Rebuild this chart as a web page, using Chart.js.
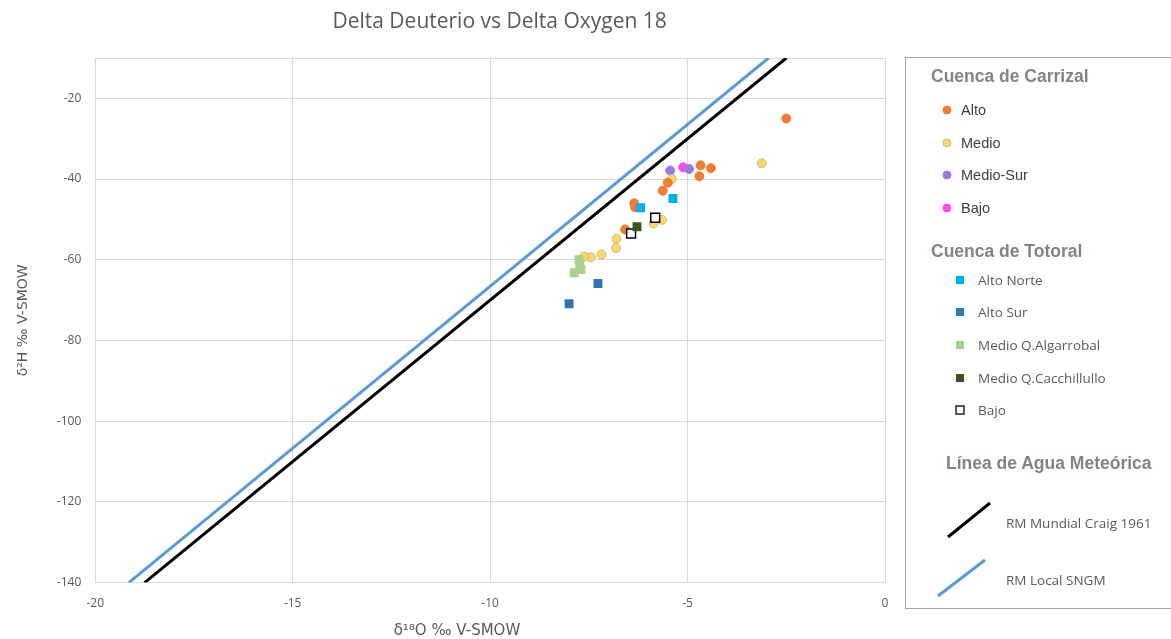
<!DOCTYPE html>
<html>
<head>
<meta charset="utf-8">
<script src="https://cdn.jsdelivr.net/npm/chart.js@4.4.1/dist/chart.umd.min.js"></script>
<style>
  body { margin: 0; background: #fff; }
  #wrap { position: relative; width: 1171px; height: 639px; }
  #legendBox { position: absolute; left: 905px; top: 57px; width: 266px; height: 552px; border: 1px solid #a6a6a6; border-right: none; box-sizing: border-box; }
  .lg { position: absolute; white-space: nowrap; line-height: 20px; height: 20px; }
  .head { font-family: "Liberation Sans", Arial, sans-serif; font-weight: bold; font-size: 17.5px; color: #8a8080; }
  .itemA { font-family: "Liberation Sans", Arial, sans-serif; font-size: 14.5px; color: #404040; }
  .itemB { font-family: "Open Sans", sans-serif; font-size: 13.5px; color: #595959; }
  #legendSvg { position: absolute; left: 0; top: 0; }
</style>
</head>
<body>
<div id="wrap">
  <canvas id="chart" width="1171" height="639"></canvas>
  <div id="legendBox"></div>
  <svg id="legendSvg" width="1171" height="639"></svg>
</div>
<script>
// δ18O (x) , δ2H (y)
const carrizalAlto = [[-2.5, -25], [-4.67, -36.6], [-4.41, -37.3], [-4.70, -39.3], [-5.50, -40.9], [-5.63, -42.9], [-6.35, -46.0], [-6.33, -47.0], [-6.58, -52.5]];
const carrizalMedio = [[-3.12, -36.1], [-5.40, -40.0], [-5.86, -51.0], [-5.65, -50.1], [-6.80, -54.8], [-6.81, -57.1], [-7.18, -58.7], [-7.45, -59.4], [-7.62, -59.2]];
const carrizalMedioSur = [[-5.44, -37.9], [-4.96, -37.5]];
const carrizalBajo = [[-5.11, -37.1]];
const totoralAltoNorte = [[-5.37, -44.8], [-6.19, -47.1]];
const totoralAltoSur = [[-7.27, -65.9], [-8.0, -70.9]];
const totoralAlgarrobal = [[-7.75, -60.0], [-7.73, -61.1], [-7.70, -62.4], [-7.87, -63.2]];
const totoralCacchillullo = [[-6.28, -51.8]];
const totoralBajo = [[-5.82, -49.6], [-6.43, -53.5]];
// meteoric water lines, end points
const lineCraig = [[-18.75, -140], [-2.5, -10]];
const lineLocal = [[-19.15, -140], [-2.95, -10]];

const xTicks = [-20, -15, -10, -5, 0];
const yTicks = [-140, -120, -100, -80, -60, -40, -20];
const chartTitle = 'Delta Deuterio vs Delta Oxygen 18';
const xTitle = 'δ¹⁸O ‰ V-SMOW';
const yTitle = 'δ²H ‰ V-SMOW';

const pts = a => a.map(p => ({x: p[0], y: p[1]}));

function circleSet(label, data, fill, border){
  return {label: label, data: pts(data), pointStyle: 'circle', pointRadius: 4.5, pointHoverRadius: 4.5,
    backgroundColor: fill, borderColor: border, borderWidth: 1, order: 5};
}
function squareSet(label, data, fill, border, bw){
  return {label: label, data: pts(data), pointStyle: 'rect', pointRadius: 6.3, pointHoverRadius: 6.3,
    backgroundColor: fill, borderColor: border, borderWidth: bw, order: 1};
}
function lineSet(label, data, color){
  return {label: label, data: pts(data), showLine: true, borderColor: color, borderWidth: 3,
    pointRadius: 0, fill: false, order: 10};
}

const series = [
  circleSet('Alto', carrizalAlto, '#ED7D31', '#ED7D31'),
  circleSet('Medio', carrizalMedio, '#FFD966', '#C9B98A'),
  circleSet('Medio-Sur', carrizalMedioSur, '#7F86DC', '#E45CE6'),
  circleSet('Bajo', carrizalBajo, '#F050F0', '#F050F0'),
  squareSet('Alto Norte', totoralAltoNorte, '#00B0F0', '#00B0F0', 0),
  squareSet('Alto Sur', totoralAltoSur, '#2E75B6', '#2E75B6', 0),
  squareSet('Medio Q.Algarrobal', totoralAlgarrobal, '#A9D18E', '#A9D18E', 0),
  squareSet('Medio Q.Cacchillullo', totoralCacchillullo, '#375623', '#375623', 0),
  squareSet('Bajo', totoralBajo, '#FFFFFF', '#000000', 1.5),
  lineSet('RM Mundial Craig 1961', lineCraig, '#000000'),
  lineSet('RM Local SNGM', lineLocal, '#5B9BD5')
];

// chart title and x axis title sit off the plot centre, as in the original
const titlesPlugin = {
  id: 'titlesPlugin',
  afterDraw(chart) {
    const ctx = chart.ctx;
    const area = chart.chartArea;
    const w = area.right - area.left;
    ctx.save();
    ctx.fillStyle = '#595959';
    ctx.textAlign = 'center';
    ctx.textBaseline = 'middle';
    ctx.font = '21px "Open Sans"';
    ctx.fillText(chartTitle, area.left + w * 0.512, 22);
    ctx.font = '15px "DejaVu Sans"';
    ctx.fillText(xTitle, area.left + w * 0.458, chart.height - 8);
    ctx.restore();
  }
};

new Chart(document.getElementById('chart'), {
  type: 'scatter',
  data: {datasets: series},
  options: {
    responsive: false,
    animation: false,
    layout: {padding: {left: 15, right: 286, top: 58, bottom: 14}},
    plugins: {
      legend: {display: false},
      tooltip: {enabled: false},
      title: {display: false}
    },
    scales: {
      x: {
        min: -20, max: 0,
        afterBuildTicks: s => { s.ticks = xTicks.map(v => ({value: v})); },
        ticks: {color: '#595959', font: {family: 'Open Sans', size: 12}, padding: 14},
        grid: {color: '#d9d9d9', drawTicks: false},
        border: {display: false},
        title: {display: false}
      },
      y: {
        min: -140, max: -10,
        afterBuildTicks: s => { s.ticks = yTicks.map(v => ({value: v})).concat([{value: -10}]); },
        ticks: {color: '#595959', font: {family: 'Open Sans', size: 12}, padding: 14,
          callback: v => v === -10 ? '' : v},
        grid: {color: '#d9d9d9', drawTicks: false},
        border: {display: false},
        title: {display: true, text: yTitle, color: '#595959', font: {family: 'DejaVu Sans', size: 14}, padding: {top: 0, bottom: 11}}
      }
    }
  },
  plugins: [titlesPlugin]
});

// legend (right panel)
const svg = document.getElementById('legendSvg');
const wrap = document.getElementById('wrap');
function addText(cls, x, y, txt){
  const d = document.createElement('div');
  d.className = 'lg ' + cls;
  d.style.left = x + 'px';
  d.style.top = (y - 10) + 'px';
  d.textContent = txt;
  wrap.appendChild(d);
}
function addSvg(tag, attrs){
  const el = document.createElementNS('http://www.w3.org/2000/svg', tag);
  for (const k in attrs) el.setAttribute(k, attrs[k]);
  svg.appendChild(el);
}

addText('head', 931, 76, 'Cuenca de Carrizal');
const carrizalRows = [110, 143, 175, 208];
series.slice(0, 4).forEach((ds, i) => {
  addSvg('circle', {cx: 947, cy: carrizalRows[i], r: 4, fill: ds.backgroundColor, stroke: ds.borderColor, 'stroke-width': 1});
  addText('itemA', 961, carrizalRows[i], ds.label);
});

addText('head', 931, 251, 'Cuenca de Totoral');
const totoralRows = [280, 312, 345, 378, 410];
series.slice(4, 9).forEach((ds, i) => {
  addSvg('rect', {x: 956, y: totoralRows[i] - 4, width: 8, height: 8, fill: ds.backgroundColor,
    stroke: ds.borderWidth ? ds.borderColor : 'none', 'stroke-width': ds.borderWidth ? 1.3 : 0});
  addText('itemB', 978, totoralRows[i], ds.label);
});

addText('head', 946, 463, 'Línea de Agua Meteórica');
addSvg('line', {x1: 948, y1: 537, x2: 990, y2: 503, stroke: '#000000', 'stroke-width': 3});
addText('itemB', 1006, 523, series[9].label);
addSvg('line', {x1: 938, y1: 596, x2: 985, y2: 560, stroke: '#5B9BD5', 'stroke-width': 3});
addText('itemB', 1006, 580, series[10].label);
</script>
</body>
</html>
